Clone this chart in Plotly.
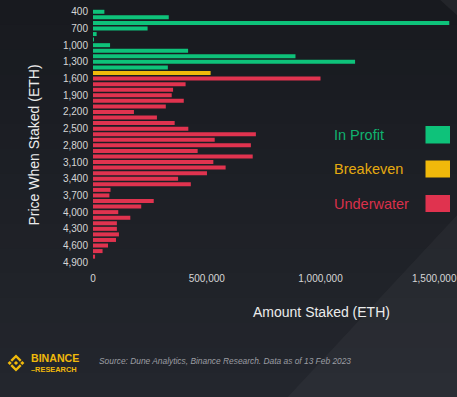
import plotly.graph_objects as go

# ---- data ----
prices = list(range(400, 5000, 100))
amounts = [50000, 333000, 1566000, 240000, 16000, 3000, 75000, 418000, 890000, 1152000,
           329000, 517000, 1000000, 407000, 352000, 346000, 399000, 320000, 180000, 281000,
           359000, 419000, 716000, 535000, 694000, 460000, 702000, 529000, 583000, 501000,
           374000, 430000, 77000, 72000, 267000, 212000, 111000, 164000, 105000, 105000,
           114000, 101000, 66000, 42000, 9000, 0]
breakeven_price = 1500
tick_prices = list(range(400, 5000, 300))
x_ticks = [0, 500000, 1000000, 1500000]
group_names = ["In Profit", "Breakeven", "Underwater"]
group_colors = ["#0ec27a", "#f0b90b", "#e0334f"]
legend_text_colors = ["#10b26f", "#e5aa10", "#d9304b"]

W, H = 457, 397
L, R, T, B = 93, 457, 9, 265  # plot area in px


def px(x):
    return (x - L) / (R - L)


def py(y):
    return (B - y) / (B - T)


groups = {g: ([], []) for g in group_names}
for p, a in zip(prices, amounts):
    if p < breakeven_price:
        g = "In Profit"
    elif p == breakeven_price:
        g = "Breakeven"
    else:
        g = "Underwater"
    groups[g][0].append(p)
    groups[g][1].append(a)

fig = go.Figure()
for g, c in zip(group_names, group_colors):
    ys, xs = groups[g]
    fig.add_trace(go.Bar(x=xs, y=ys, orientation="h", name=g, width=[72] * len(ys),
                         marker=dict(color=c, line=dict(width=0)), showlegend=False))

shapes = []
# background vertical gradient bands
top_c = (24, 26, 31)
bot_c = (35, 38, 45)
n = 16
for i in range(n):
    t = i / (n - 1)
    c = tuple(int(round(top_c[k] + (bot_c[k] - top_c[k]) * t)) for k in range(3))
    y0 = H * i / n
    y1 = H * (i + 1) / n + 1
    shapes.append(dict(type="rect", xref="paper", yref="paper", x0=px(-5), x1=px(W + 5),
                       y0=py(y1), y1=py(y0), fillcolor="rgb(%d,%d,%d)" % c,
                       line=dict(width=0), layer="below"))


def path(pts):
    return "M " + " L ".join("%f,%f" % (px(a), py(b)) for a, b in pts) + " Z"


# diagonal lighter region bottom-right
shapes.append(dict(type="path", xref="paper", yref="paper",
                   path=path([(285, 400), (460, 212), (460, 400)]),
                   fillcolor="rgba(255,255,255,0.035)", line=dict(width=0), layer="below"))
shapes.append(dict(type="path", xref="paper", yref="paper",
                   path=path([(438, -2), (460, -2), (460, 18)]),
                   fillcolor="rgba(255,255,255,0.05)", line=dict(width=0), layer="below"))

# legend boxes
box_y = [(126, 143.5), (160.5, 177.5), (195, 212)]
for (y0, y1), c in zip(box_y, group_colors):
    shapes.append(dict(type="rect", xref="paper", yref="paper", x0=px(425.5), x1=px(450),
                       y0=py(y1), y1=py(y0), fillcolor=c, line=dict(width=0)))

# Binance icon
cx, cy = 16, 363
Y = "#f0b90b"


def diamond(x, y, r):
    return path([(x, y - r), (x + r, y), (x, y + r), (x - r, y)])


for dx in (-6.3, 0, 6.3):
    shapes.append(dict(type="path", xref="paper", yref="paper", path=diamond(cx + dx, cy, 2.1),
                       fillcolor=Y, line=dict(width=0)))
for sgn in (-1, 1):
    pts = [(0, -8.6), (5.6, -3.0), (3.9, -1.3), (0, -5.2), (-3.9, -1.3), (-5.6, -3.0)]
    shapes.append(dict(type="path", xref="paper", yref="paper",
                       path=path([(cx + a, cy + sgn * b) for a, b in pts]),
                       fillcolor=Y, line=dict(width=0)))

annotations = []
for g, (y0, y1), c in zip(group_names, box_y, legend_text_colors):
    annotations.append(dict(text=g, xref="paper", yref="paper", x=px(331.5), y=py((y0 + y1) / 2),
                            xanchor="left", yanchor="middle", showarrow=False,
                            font=dict(family="Liberation Sans, Arial", size=14.5, color=c)))
annotations.append(dict(text="Price When Staked (ETH)", xref="paper", yref="paper",
                        x=px(33), y=py(145.5), textangle=-90, xanchor="center", yanchor="middle",
                        showarrow=False,
                        font=dict(family="Liberation Sans, Arial", size=14, color="#ececec")))
annotations.append(dict(text="Amount Staked (ETH)", xref="paper", yref="paper",
                        x=px(321), y=py(311.5), xanchor="center", yanchor="middle",
                        showarrow=False,
                        font=dict(family="Liberation Sans, Arial", size=14, color="#ececec")))
annotations.append(dict(text="<i>Source: Dune Analytics, Binance Research. Data as of 13 Feb 2023</i>",
                        xref="paper", yref="paper", x=px(96.5), y=py(361), xanchor="left",
                        yanchor="middle", showarrow=False,
                        font=dict(family="Liberation Sans, Arial", size=8.4, color="#9c9ea3")))
annotations.append(dict(text="<span style='font-size:10.6px'><b>BINANCE</b></span><br><b>\u2013RESEARCH</b>",
                        xref="paper", yref="paper", x=px(28.5), y=py(363), xanchor="left",
                        yanchor="middle", align="left", showarrow=False,
                        font=dict(family="Liberation Sans, Arial", size=7.4, color=Y)))

fig.update_layout(
    width=W, height=H,
    margin=dict(l=L, r=W - R, t=T, b=H - B, pad=0),
    paper_bgcolor="#1c1e24", plot_bgcolor="rgba(0,0,0,0)",
    barmode="overlay",
    font=dict(family="Liberation Sans, Arial", color="#d6d6d6"),
    shapes=shapes, annotations=annotations,
    xaxis=dict(range=[0, 1600000], tickvals=x_ticks, tickformat=",d", showgrid=False,
               zeroline=False, showline=False, ticks="", tickfont=dict(size=10, color="#d6d6d6"),
               ticklabelstandoff=6, fixedrange=True),
    yaxis=dict(range=[4950, 350], tickvals=tick_prices, tickformat=",d", showgrid=False,
               zeroline=False, showline=False, ticks="", tickfont=dict(size=10, color="#d6d6d6"),
               ticklabelstandoff=4, fixedrange=True),
)

fig.write_html(
    "out.html",
    config={"displayModeBar": False},
    post_script="document.body.style.margin='0';document.body.style.overflow='hidden';"
                "document.documentElement.style.overflow='hidden';",
)
